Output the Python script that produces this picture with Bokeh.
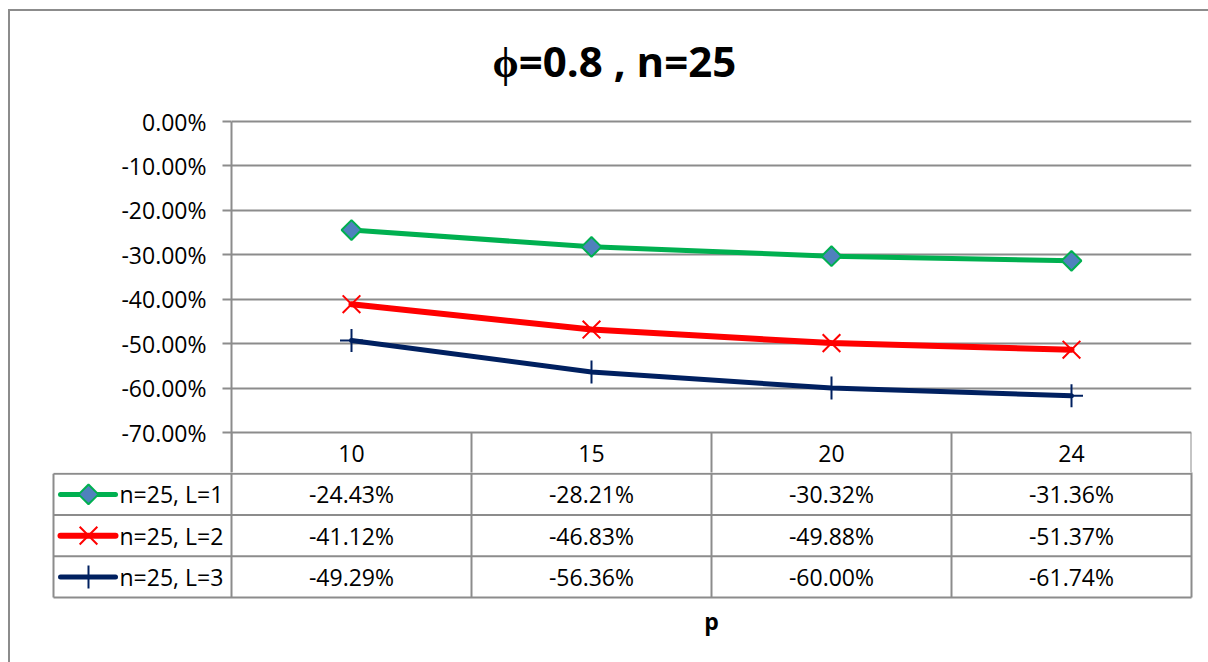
import math

from bokeh.core.properties import value
from bokeh.embed import file_html
from bokeh.layouts import column
from bokeh.models import (ColumnDataSource, FactorRange, FixedTicker,
                          NumeralTickFormatter, Range1d, Title)
from bokeh.plotting import figure
from bokeh.resources import INLINE

# ---- data -------------------------------------------------------------
p_values = ["10", "15", "20", "24"]
series_names = ["n=25, L=1", "n=25, L=2", "n=25, L=3"]
loss_l1 = [-24.43, -28.21, -30.32, -31.36]
loss_l2 = [-41.12, -46.83, -49.88, -51.37]
loss_l3 = [-49.29, -56.36, -60.00, -61.74]
y_ticks = [0, -10, -20, -30, -40, -50, -60, -70]
chart_title = "ϕ=0.8 , n=25"
x_title = "p"

series_values = [loss_l1, loss_l2, loss_l3]

# ---- styling ----------------------------------------------------------
FONT = "Open Sans"
GRAY = "#8c8c8c"
TXT = "23px"
styles = [
    dict(color="#00B050", width=5, marker="square", size=14, angle=math.pi / 4,
         fill="#4F81BD", mline=2),
    dict(color="#FF0000", width=6, marker="x", size=25, angle=0,
         fill="#FF0000", mline=2),
    dict(color="#002060", width=5, marker="cross", size=23, angle=0,
         fill="#002060", mline=2),
]

W = 1198                   # figure width (page offset 8px + 2px border)
CAT_PX = 240.0             # width of one category column
PLOT_PX = 311.0            # height of the 0% .. -70% span
ROW_PX = 41.25             # table row height
y_lo, y_hi = y_ticks[-1] / 100, y_ticks[0] / 100
ppu = PLOT_PX / (y_hi - y_lo)

n_cat = len(p_values)
n_rows = len(series_names)

# ---- line chart (with the header row of the table) ---------------------
TOP_H = 461                # window rows 11 .. 472
top = figure(width=W, height=TOP_H,
             x_range=FactorRange(factors=p_values, range_padding=0),
             y_range=Range1d(y_lo - 40 / ppu, y_hi + 16 / ppu),
             output_backend="svg", toolbar_location=None,
             min_border_left=221, min_border_right=17,
             min_border_top=94, min_border_bottom=0)
top.outline_line_color = None
top.xaxis.visible = False
top.xgrid.visible = False

top.yaxis.ticker = FixedTicker(ticks=[t / 100 for t in y_ticks])
top.yaxis.formatter = NumeralTickFormatter(format="0.00%")
top.yaxis.bounds = (y_lo - 40 / ppu, y_hi)
top.yaxis.axis_line_color = GRAY
top.yaxis.axis_line_width = 2
top.yaxis.major_tick_line_color = GRAY
top.yaxis.major_tick_line_width = 2
top.yaxis.major_tick_in = 0
top.yaxis.major_tick_out = 9
top.yaxis.minor_tick_line_color = None
top.yaxis.major_label_standoff = 16
top.yaxis.major_label_text_font = FONT
top.yaxis.major_label_text_font_size = TXT
top.yaxis.major_label_text_color = "#000000"

top.ygrid.ticker = FixedTicker(ticks=[t / 100 for t in y_ticks])
top.ygrid.grid_line_color = GRAY
top.ygrid.grid_line_width = 2

for vals, st in zip(series_values, styles):
    src = ColumnDataSource(dict(x=p_values, y=[v / 100 for v in vals]))
    top.line("x", "y", source=src, line_color=st["color"], line_width=st["width"],
             line_join="round", line_cap="round")
    top.scatter("x", "y", source=src, marker=st["marker"], size=st["size"],
                angle=st["angle"], fill_color=st["fill"],
                line_color=st["color"], line_width=st["mline"])

# header row: column separators and category labels
sep_x = list(range(n_cat + 1))
top.segment(x0=sep_x, y0=[y_lo] * len(sep_x), x1=sep_x,
            y1=[y_lo - 60 / ppu] * len(sep_x), line_color=GRAY, line_width=2)
top.text(x=p_values, y=[y_lo - 20.6 / ppu] * n_cat, text=p_values,
         text_font=value(FONT), text_font_size=TXT, text_color="#000000",
         text_align="center", text_baseline="middle")

top.title = Title(text=chart_title, align="left", offset=261, standoff=34,
                  text_font=FONT, text_font_size="42px",
                  text_font_style="bold", text_color="#000000")

# ---- series rows of the table -----------------------------------------
legend_left = -178 / CAT_PX
r_top = 40 / ROW_PX        # table figure starts at window row 472
r_bot = 230 / ROW_PX

tab = figure(width=W, height=190,
             x_range=Range1d(-180 / CAT_PX, n_cat + 2 / CAT_PX),
             y_range=Range1d(r_bot, r_top),
             output_backend="svg", toolbar_location=None,
             min_border_left=41, min_border_right=15,
             min_border_top=0, min_border_bottom=0)
tab.outline_line_color = None
tab.axis.visible = False
tab.grid.visible = False

hy = list(range(1, n_rows + 2))
tab.segment(x0=[legend_left] * len(hy), y0=hy, x1=[n_cat] * len(hy), y1=hy,
            line_color=GRAY, line_width=2)
vx = [legend_left] + sep_x
vy0 = [1] + [r_top - 0.1] * len(sep_x)
tab.segment(x0=vx, y0=vy0, x1=vx, y1=[n_rows + 1] * len(vx),
            line_color=GRAY, line_width=2)

for j, vals in enumerate(series_values):
    tab.text(x=[i + 0.5 for i in range(n_cat)], y=[j + 1.5] * n_cat,
             text=[f"{v:.2f}%" for v in vals],
             text_font=value(FONT), text_font_size=TXT, text_color="#000000",
             text_align="center", text_baseline="middle")

# legend keys
key_x0, key_x1, key_m, key_t = -171 / CAT_PX, -116 / CAT_PX, -143 / CAT_PX, -112 / CAT_PX
for j, (name, st) in enumerate(zip(series_names, styles)):
    yc = j + 1.5
    tab.line([key_x0, key_x1], [yc, yc], line_color=st["color"],
             line_width=st["width"], line_cap="round")
    tab.scatter([key_m], [yc], marker=st["marker"], size=st["size"],
                angle=st["angle"], fill_color=st["fill"],
                line_color=st["color"], line_width=st["mline"])
    tab.text(x=[key_t], y=[yc], text=[name], text_font=value(FONT),
             text_font_size=TXT, text_color="#000000",
             text_align="left", text_baseline="middle")

# category axis title
tab.text(x=[n_cat / 2], y=[(620 - 432) / ROW_PX], text=[x_title],
         text_font=value(FONT), text_font_size=TXT, text_font_style="bold",
         text_color="#000000", text_align="center", text_baseline="middle")

upper = column(top, styles={"margin-left": "8px", "margin-top": "9px",
                            "border-left": "2px solid #8c8c8c",
                            "border-top": "2px solid #8c8c8c"})
lower = column(tab, styles={"margin-left": "8px",
                            "border-left": "2px solid #8c8c8c"})

open("out.html", "w").write(file_html([upper, lower], INLINE))
